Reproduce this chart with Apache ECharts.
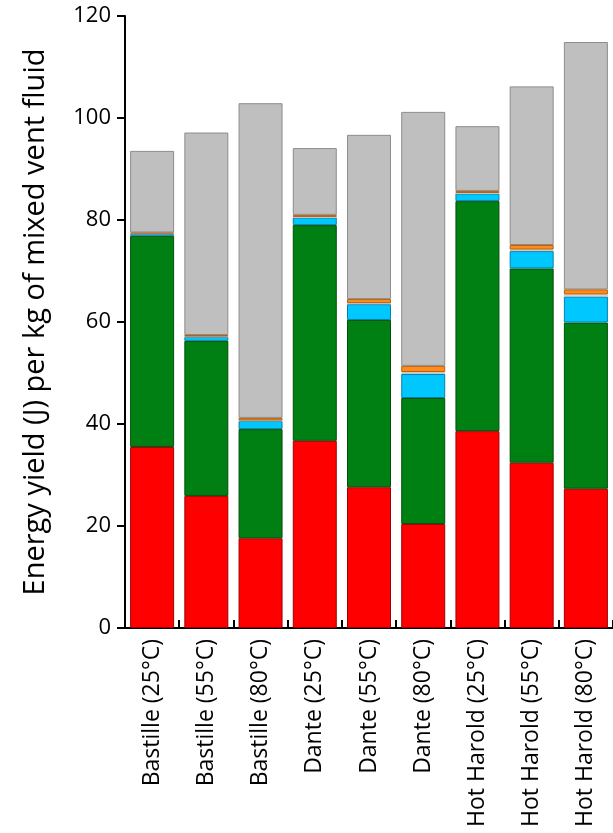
<!DOCTYPE html>
<html>
<head>
<meta charset="utf-8">
<script src="https://cdn.jsdelivr.net/npm/echarts@6/dist/echarts.min.js"></script>
<style>
  html, body { margin: 0; padding: 0; background: #fff; }
  #chart { width: 613px; height: 833px; }
</style>
</head>
<body>
<div id="chart"></div>
<script>
// Vent sites at three mixing temperatures
const categories = [
  'Bastille (25°C)', 'Bastille (55°C)', 'Bastille (80°C)',
  'Dante (25°C)', 'Dante (55°C)', 'Dante (80°C)',
  'Hot Harold (25°C)', 'Hot Harold (55°C)', 'Hot Harold (80°C)'
];

// Energy yield contributions (J per kg), stacked bottom to top
const redPart    = [35.5, 25.9, 17.6, 36.7, 27.6, 20.4, 38.6, 32.4, 27.3];
const greenPart  = [41.4, 30.4, 21.4, 42.3, 32.8, 24.7, 45.1, 38.1, 32.6];
const cyanPart   = [0.4, 0.8, 1.6, 1.5, 3.1, 4.7, 1.5, 3.4, 5.1];
const palePart   = [0.05, 0.05, 0.1, 0.1, 0.2, 0.4, 0.1, 0.3, 0.4];
const orangePart = [0.2, 0.3, 0.5, 0.4, 0.8, 1.2, 0.4, 0.9, 1.0];
const greyPart   = [16.0, 39.7, 61.7, 13.1, 32.2, 49.8, 12.7, 31.1, 48.5];

const yTicks = [0, 20, 40, 60, 80, 100, 120];

const FONT = 'Open Sans';

function layer(name, data, color, border) {
  return {
    name: name,
    type: 'bar',
    stack: 'total',
    data: data,
    barWidth: 44,
    itemStyle: { color: color, borderColor: border, borderWidth: 1 }
  };
}

const chart = echarts.init(document.getElementById('chart'), null, { renderer: 'canvas' });
chart.setOption({
  animation: false,
  backgroundColor: '#ffffff',
  grid: { left: 125, top: 16, width: 491.6, height: 612, containLabel: false },
  xAxis: {
    type: 'category',
    data: categories,
    axisLine: { lineStyle: { color: '#000', width: 2 } },
    axisTick: { show: true, inside: true, length: 8, lineStyle: { color: '#000', width: 2 } },
    axisLabel: {
      rotate: 90, color: '#000', fontFamily: FONT, fontSize: 23, margin: 11
    }
  },
  yAxis: {
    type: 'value',
    min: yTicks[0],
    max: yTicks[yTicks.length - 1],
    interval: 20,
    name: 'Energy yield (J) per kg of mixed vent fluid',
    nameLocation: 'middle',
    nameRotate: 90,
    nameGap: 75,
    nameTextStyle: { color: '#000', fontFamily: FONT, fontSize: 29 },
    splitLine: { show: false },
    axisLine: { show: true, lineStyle: { color: '#000', width: 2 } },
    axisTick: { show: true, length: 8, lineStyle: { color: '#000', width: 2 } },
    axisLabel: { color: '#000', fontFamily: FONT, fontSize: 22, margin: 14 }
  },
  series: [
    layer('red', redPart, '#ff0000', '#a00000'),
    layer('green', greenPart, '#007f12', '#00500a'),
    layer('cyan', cyanPart, '#00c8ff', '#0a7fa8'),
    layer('pale', palePart, '#f2f2f2', '#c8c8c8'),
    layer('orange', orangePart, '#ff8c1a', '#b86010'),
    layer('grey', greyPart, '#bfbfbf', '#8c8c8c')
  ]
});
</script>
</body>
</html>
